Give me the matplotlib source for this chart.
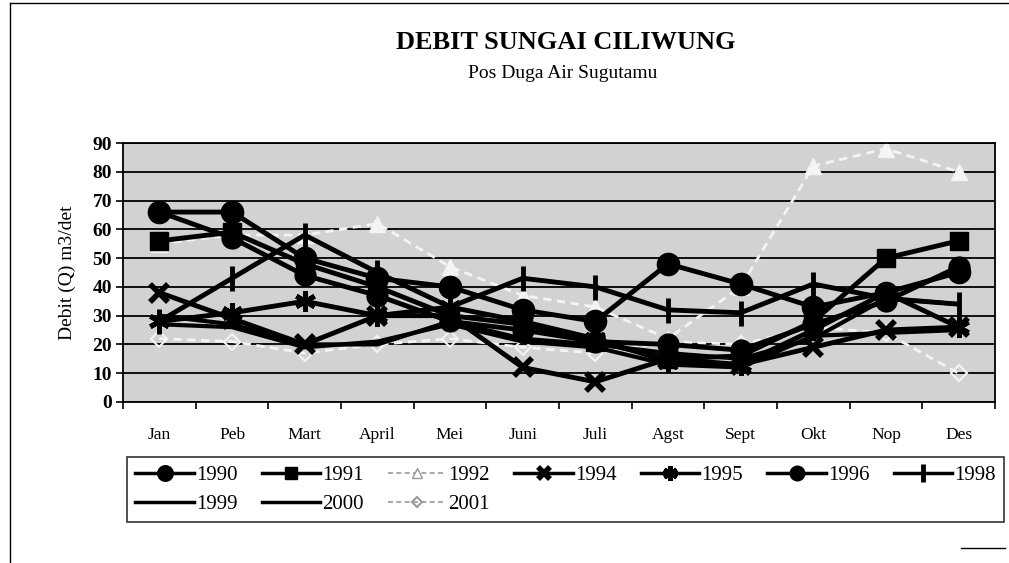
import matplotlib.pyplot as plt
from matplotlib.lines import Line2D

plt.rcParams["font.family"] = ["Liberation Serif", "DejaVu Serif"]

months = ["Jan", "Peb", "Mart", "April", "Mei", "Juni", "Juli",
          "Agst", "Sept", "Okt", "Nop", "Des"]

q1990 = [66, 66, 50, 43, 40, 32, 28, 48, 41, 33, 38, 45]
q1991 = [56, 59, 48, 40, 30, 27, 21, 15, 16, 28, 50, 56]
q1992 = [55, 58, 58, 62, 47, 37, 33, 22, 40, 82, 88, 80]
q1994 = [38, 29, 20, 30, 30, 12, 7, 15, 13, 19, 25, 26]
q1995 = [28, 31, 35, 30, 33, 28, 22, 14, 13, 25, 38, 26]
q1996 = [66, 57, 44, 37, 28, 25, 21, 20, 18, 27, 35, 47]
q1998 = [28, 43, 58, 45, 33, 43, 40, 32, 31, 41, 36, 34]
q1999 = [30, 27, 20, 20, 28, 22, 20, 17, 15, 22, 36, 34]
q2000 = [27, 26, 19, 21, 27, 21, 19, 13, 12, 23, 24, 25]
q2001 = [22, 21, 17, 20, 22, 19, 17, 21, 20, 26, 24, 10]

# year -> (values, style)
light = "#f4f4f4"
series = {
    "2001": (q2001, dict(color=light, lw=2, ls=(0, (3, 2)), marker="D", ms=8,
                         mfc="none", mec=light, mew=1.5, zorder=2)),
    "1992": (q1992, dict(color=light, lw=2, ls=(0, (3, 2)), marker="^", ms=11,
                         mfc=light, mec=light, zorder=2)),
    "2000": (q2000, dict(color="black", lw=3, zorder=3)),
    "1999": (q1999, dict(color="black", lw=3, zorder=3)),
    "1998": (q1998, dict(color="black", lw=3.5, marker="|", ms=18, mew=3.5,
                         zorder=3)),
    "1995": (q1995, dict(color="black", lw=3.5, marker=(6, 2, 0), ms=15,
                         mew=3.5, zorder=3)),
    "1994": (q1994, dict(color="black", lw=3.5, marker="x", ms=13, mew=4,
                         zorder=3)),
    "1991": (q1991, dict(color="black", lw=3.5, marker="s", ms=13, zorder=3)),
    "1996": (q1996, dict(color="black", lw=3.5, marker="o", ms=15, zorder=3)),
    "1990": (q1990, dict(color="black", lw=3.5, marker="o", ms=16, zorder=3)),
}

fig = plt.figure(figsize=(10.09, 5.63), dpi=100)
ax = fig.add_axes([0.122, 0.286, 0.864, 0.460])
ax.set_facecolor("#d2d2d2")

x = list(range(len(months)))
for year, (vals, style) in series.items():
    ax.plot(x, vals, label=year, **style)

ax.set_xlim(-0.5, 11.5)
ax.set_ylim(0, 90)
ax.set_yticks(range(0, 91, 10))
ax.yaxis.grid(True, color="black", lw=1.3)
ax.set_axisbelow(True)
ax.set_xticks(x)
ax.set_xticklabels(months, fontsize=12.5)
ax.set_xticks([i + 0.5 for i in range(-1, 12)], minor=True)
ax.tick_params(axis="x", which="major", length=0, pad=18)
ax.tick_params(axis="x", which="minor", length=5, width=1.2, direction="out")
ax.tick_params(axis="y", length=5, width=1.2, labelsize=14, pad=3)
for lab in ax.get_yticklabels():
    lab.set_fontweight("bold")
for s in ax.spines.values():
    s.set_linewidth(1.3)
ax.set_ylabel("Debit (Q) m3/det", fontsize=14, labelpad=12)

fig.text(0.561, 0.925, "DEBIT SUNGAI CILIWUNG", ha="center", va="center",
         fontsize=19, fontweight="bold")
fig.text(0.558, 0.870, "Pos Duga Air Sugutamu", ha="center", va="center",
         fontsize=14)


def legend_handle(year):
    style = dict(series[year][1])
    style.pop("zorder", None)
    if style.get("color") == light:
        style.update(color="#9a9a9a", mec="#9a9a9a", lw=1.2)
        if style.get("mfc") == light:
            style["mfc"] = "white"
    else:
        style["lw"] = 2.5
    if "ms" in style:
        style["ms"] = style["ms"] * 0.7
    return Line2D([], [], **style)


# legend filled row by row: 7 years on top, 3 below
rows = [["1990", "1991", "1992", "1994", "1995", "1996", "1998"],
        ["1999", "2000", "2001", "", "", "", ""]]
blank = Line2D([], [], alpha=0)
hs, ls = [], []
for col in range(7):
    for row in rows:
        key = row[col]
        hs.append(legend_handle(key) if key else blank)
        ls.append(key)
leg = fig.legend(hs, ls, loc="lower left",
                 bbox_to_anchor=(0.126, 0.072, 0.869, 0.108), mode="expand",
                 ncol=7, fontsize=15, frameon=True, fancybox=False,
                 edgecolor="black", handlelength=2.8, handletextpad=0.1,
                 columnspacing=1.0, borderaxespad=0, labelspacing=0.45)
leg.get_frame().set_linewidth(1.2)

# outer frame of the chart
fig.add_artist(Line2D([0.010, 0.010], [0.0, 0.995], color="black", lw=1,
                      transform=fig.transFigure))
fig.add_artist(Line2D([0.010, 1.0], [0.995, 0.995], color="black", lw=1,
                      transform=fig.transFigure))
fig.add_artist(Line2D([0.952, 0.996], [0.027, 0.027], color="black", lw=1,
                      transform=fig.transFigure))

fig.savefig("out.png", dpi=100, facecolor="white")
